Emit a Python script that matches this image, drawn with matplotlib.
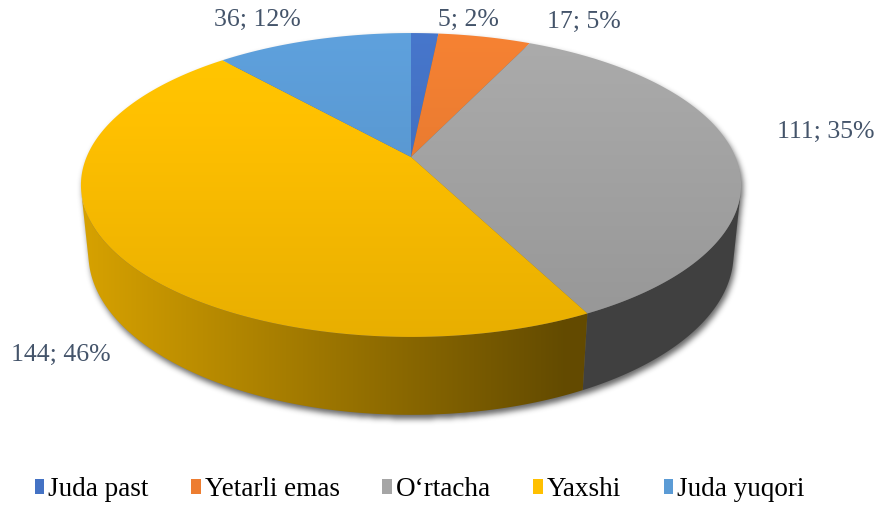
import numpy as np
import matplotlib.pyplot as plt
from matplotlib.patches import Polygon, Rectangle
from matplotlib.path import Path
from matplotlib.colors import to_rgb

plt.rcParams['font.family'] = ['Liberation Serif', 'DejaVu Serif']

categories = ['Juda past', 'Yetarli emas', 'O\u2018rtacha', 'Yaxshi', 'Juda yuqori']
values = [5, 17, 111, 144, 36]
colors = ['#4472C4', '#ED7D31', '#A5A5A5', '#FFC000', '#5B9BD5']
LABEL_POS = [(468, 20), (584, 22), (826, 132), (61, 355), (257, 20)]  # layout only
TXT = '#44546A'

W, H = 880, 505
fig = plt.figure(figsize=(8.8, 5.05), dpi=100)
ax = fig.add_axes([0, 0, 1, 1])
ax.set_xlim(0, W)
ax.set_ylim(H, 0)
ax.axis('off')

## perspective camera, fitted to the picture
CX, CY = 411, 157
K = 0.2066      # radius / camera distance
SPHI, CPHI = 0.4525, 0.8918   # camera tilt
F = 324.4 / K
T = 0.0495      # thickness / camera distance

def proj(theta, z=0.0):
    # theta clockwise from 12 o'clock, z=0 top face, z=1 bottom rim
    t = T * z
    den = 1 + t * SPHI + K * CPHI * np.cos(theta)
    xs = K * np.sin(theta) / den
    ys = (K * SPHI * np.cos(theta) - t * CPHI) / den
    return CX + F * xs, CY - F * ys

TH_A = np.arccos(-K / CPHI)   # silhouette angle of the wall

total = float(sum(values))
bounds = np.concatenate([[0], np.cumsum(values)]) / total * 2 * np.pi

## soft shadow under the pie
tt = np.linspace(-TH_A, TH_A, 200)
tb = np.linspace(TH_A, 2 * np.pi - TH_A, 200)
ox = np.concatenate([proj(tt)[0], proj(tb, 1)[0]])
oy = np.concatenate([proj(tt)[1], proj(tb, 1)[1]])
outline = Path(np.column_stack([ox + 2, oy + 4]))
gx, gy = np.meshgrid(np.arange(W) + 0.5, np.arange(H) + 0.5)
mask = outline.contains_points(np.column_stack([gx.ravel(), gy.ravel()])).reshape(H, W).astype(float)
kern = np.exp(-np.arange(-8, 9) ** 2 / (2 * 3.0 ** 2))
kern /= kern.sum()
for axis in (0, 1):
    mask = np.apply_along_axis(lambda m: np.convolve(m, kern, mode='same'), axis, mask)
shadow = np.zeros((H, W, 4))
shadow[..., 3] = 0.6 * mask
ax.imshow(shadow, extent=(0, W, H, 0), zorder=1, interpolation='bilinear')

xs_grad = np.arange(W) + 0.5
ys_grad = np.arange(H) + 0.5

## walls
for i in range(len(values)):
    lo = max(bounds[i], TH_A)
    hi = min(bounds[i + 1], 2 * np.pi - TH_A)
    if hi <= lo:
        continue
    th = np.linspace(lo, hi, 120)
    px = np.concatenate([proj(th)[0], proj(th[::-1], 1)[0]])
    py = np.concatenate([proj(th)[1], proj(th[::-1], 1)[1]])
    poly = Polygon(np.column_stack([px, py]), closed=True, facecolor='none', edgecolor='none', zorder=2)
    ax.add_patch(poly)
    fac = np.clip(0.84 - 0.00094 * (xs_grad - 85), 0.39, 1)
    img = np.array(to_rgb(colors[i]))[None, None, :] * fac[None, :, None]
    im = ax.imshow(img, extent=(0, W, H, 0), aspect='auto', zorder=2, interpolation='bilinear')
    im.set_clip_path(poly)

## top faces
for i in range(len(values)):
    th = np.linspace(bounds[i], bounds[i + 1], 200)
    px = np.concatenate([[CX], proj(th)[0]])
    py = np.concatenate([[CY], proj(th)[1]])
    poly = Polygon(np.column_stack([px, py]), closed=True, facecolor='none', edgecolor='none', zorder=3)
    ax.add_patch(poly)
    fac = 1.04 - np.clip((ys_grad - 33) / 304, 0, 1) * 0.13
    base = np.array(to_rgb(colors[i]))
    img = np.clip(base[None, None, :] * fac[:, None, None], 0, 1)
    im = ax.imshow(img, extent=(0, W, H, 0), aspect='auto', zorder=3, interpolation='bilinear')
    im.set_clip_path(poly)

## data labels
for i in range(len(values)):
    pct = values[i] / total * 100
    ax.text(LABEL_POS[i][0], LABEL_POS[i][1], '%d; %d%%' % (values[i], round(pct)),
            ha='center', va='center', fontsize=18.5, color=TXT, zorder=5)

## legend
handles = [Rectangle((0, 0), 1, 1, facecolor=c, edgecolor='none') for c in colors]
ax.legend(handles, categories, loc='center', bbox_to_anchor=(0.477, 0.03), ncol=5,
          frameon=False, fontsize=19.5, handlelength=0.36, handleheight=0.5,
          handletextpad=0.15, columnspacing=1.56, labelcolor='black',
          borderpad=0, borderaxespad=0)

plt.savefig('out.png', dpi=100)
